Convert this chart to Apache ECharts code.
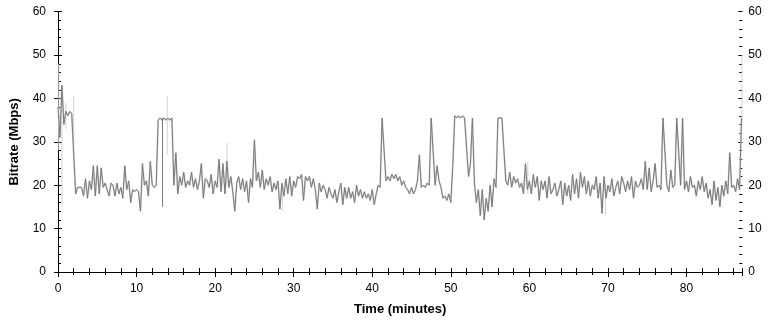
<!DOCTYPE html>
<html>
<head>
<meta charset="utf-8">
<script src="https://cdn.jsdelivr.net/npm/echarts@6/dist/echarts.min.js"></script>
<style>
  html, body { margin: 0; background: #fff; }
  #chart { width: 772px; height: 321px; }
</style>
</head>
<body>
<div id="chart"></div>
<script>
// samples every 0.25 minute (Mbps)
const stepMin = 0.25
const bitrate = [
  38, 31, 43, 34,  37, 36, 37, 36.5,  36.5, 18, 19.5, 19.5,  19.5, 17.5, 21.5, 17,
  21, 19, 24.5, 17.5,  24.5, 18, 24, 19.5,  20.5, 20.5, 17.5, 20.5,  20, 17.5, 20.5, 18,
  19.5, 17, 24.5, 19,  21, 16, 19, 18.5,  19, 18.5, 14, 25,  20, 21, 17.5, 25.5,
  20, 19.5, 20, 35,  35.5, 35, 35.5, 35,  35.5, 35, 35.5, 20,  27.5, 18, 22, 20,
  23, 19.5, 21, 20,  23, 19.5, 21.5, 19,  21, 25, 17, 21.5,  21, 19.5, 22.5, 18,
  21, 19.5, 26, 18.5,  25, 18, 25.5, 19.5,  22, 18.5, 14, 20.5,  22, 19, 21.5, 18.5,
  21, 16, 21.5, 19.5,  30.5, 21, 23, 19.5,  23.5, 19, 21.5, 20,  22, 18.5, 20.5, 19,
  21, 14.5, 20.5, 17.5,  21.5, 18, 22, 17.5,  21, 19.5, 22, 21.5,  22.5, 16.5, 22, 21,
  22, 19.5, 21.5, 19,  14.5, 20.5, 18.5, 20,  19, 17, 19.5, 18,  17, 19, 16, 18.5,
  20.5, 15.5, 19.5, 17,  19.5, 17, 18.5, 16,  20, 17.5, 19, 17,  18.5, 17, 18, 16.5,
  19, 15.5, 18, 20,  19.5, 35.5, 35.5, 21,  22, 21, 22.5, 21.5,  22.5, 21, 22, 20,
  21, 19.5, 19, 18,  19.5, 18, 19, 21,  27, 19.5, 20, 19.5,  20.5, 20, 35.5, 35.5,
  20, 24.5, 21, 19.5,  17, 17.5, 16.5, 18,  16, 24.5, 36, 35.5,  36, 35.5, 36, 35.5,
  35.5, 22, 25, 35.5,  20.5, 16, 19, 13,  19, 12, 17, 14,  20, 15, 21.5, 19.5,
  35.5, 35.5, 35.5, 35.5,  21, 20, 23, 19.5,  22, 20.5, 21.5, 19.5,  20.5, 18, 25, 19,
  21, 18, 22.5, 19.5,  22, 16.5, 21, 19,  21, 17, 22, 18,  19, 20.5, 17.5, 19,
  21, 15.5, 20.5, 17.5,  20, 16.5, 22.5, 18,  21.5, 17, 23, 19.5,  22, 18, 21, 17.5,
  20, 19, 22, 17,  20.5, 13.5, 22, 17,  20, 18.5, 21.5, 17.5,  19.5, 21, 18, 22,
  20.5, 18.5, 21, 19,  22, 17, 21, 19.5,  20, 21.5, 19, 25.5,  19, 24, 18.5, 21,
  25, 19.5, 20, 19,  35.5, 35.5, 20, 18.5,  23.5, 19.5, 20, 35.5,  35.5, 20, 35.5, 19,
  21, 18.5, 22, 19.5,  20, 17.5, 21, 19,  22, 18.5, 20.5, 17,  19, 15.5, 21, 16.5,
  19.5, 15, 20, 17.5,  21, 18, 27.5, 19.5,  20, 18.5, 21.5, 19,  35.5
]
// light grey peak/low excursions: [minute, low, high]
const spikes = [
  [0.1, 28, 48], [0.5, 15, 43], [1.0, 33, 39], [2.0, 30, 40.5],
  [13.9, 27, 40.5], [21.5, 20, 29.8], [28.6, 14, 20], [59.8, 18, 25.5],
  [69.7, 13, 20], [87.05, 35, 50]
]
// short dark drop-outs: [minute, low, high]
const dips = [[13.3, 15, 35.5]]
const xMax = 87.1
const yMax = 60

const points = bitrate.map((v, i) => [i * stepMin, v])

const font = { fontFamily: 'Liberation Sans, Arial, sans-serif', color: '#000' }
const axisLine = { show: true, lineStyle: { color: '#000', width: 1 } }
const noLine = { show: false }

function xAx (position, interval, inside, len, opts) {
  return Object.assign({
    type: 'value', position, min: 0, max: xMax, interval,
    axisLine: noLine,
    axisTick: { show: true, inside, length: len, lineStyle: { color: '#000' } },
    axisLabel: { show: false },
    splitLine: { show: false }
  }, opts || {})
}
function yAx (position, interval, inside, len, opts) {
  return Object.assign({
    type: 'value', position, min: 0, max: yMax, interval,
    axisLine: noLine,
    axisTick: { show: true, inside, length: len, lineStyle: { color: '#000' } },
    axisLabel: { show: false },
    splitLine: { show: false }
  }, opts || {})
}

function vbar (s, color) {
  return {
    type: 'line', data: [[s[0], s[1]], [s[0], s[2]]], showSymbol: false, silent: true,
    lineStyle: { color, width: 1 }
  }
}

const chart = echarts.init(document.getElementById('chart'))
chart.setOption({
  animation: false,
  backgroundColor: '#fff',
  grid: { left: 52.5, right: 29.7, top: 11.7, bottom: 47.7, containLabel: false },
  xAxis: [
    xAx('bottom', 10, false, 5, {
      axisLine,
      axisLabel: Object.assign({ show: true, fontSize: 12, margin: 11, showMaxLabel: false }, font),
      name: 'Time (minutes)', nameLocation: 'middle', nameGap: 31,
      nameTextStyle: Object.assign({ fontSize: 13, fontWeight: 'bold' }, font)
    }),
    xAx('bottom', 2, true, 4),
    xAx('top', 2, true, 3, { axisLine }),
    xAx('top', 10, true, 4)
  ],
  yAxis: [
    yAx('left', 10, false, 4, {
      axisLine,
      axisLabel: Object.assign({ show: true, fontSize: 12, margin: 12 }, font),
      name: 'Bitrate (Mbps)', nameLocation: 'middle', nameGap: 37,
      nameTextStyle: Object.assign({ fontSize: 13, fontWeight: 'bold' }, font)
    }),
    yAx('left', 2, true, 3),
    yAx('left', 10, true, 4),
    yAx('right', 10, false, 4, {
      axisLine,
      axisLabel: Object.assign({ show: true, fontSize: 12, margin: 6 }, font)
    }),
    yAx('right', 2, true, 3),
    yAx('right', 10, true, 4)
  ],
  series: [
    {
      type: 'line', data: points, showSymbol: false, silent: true,
      lineStyle: { color: '#d6d6d6', width: 1.8 }
    },
    ...spikes.map(s => vbar(s, '#d2d2d2')),
    {
      type: 'line', data: points, showSymbol: false, silent: true,
      lineStyle: { color: '#7a7a7a', width: 1 }
    },
    ...dips.map(s => vbar(s, '#7a7a7a'))
  ]
})
</script>
</body>
</html>
